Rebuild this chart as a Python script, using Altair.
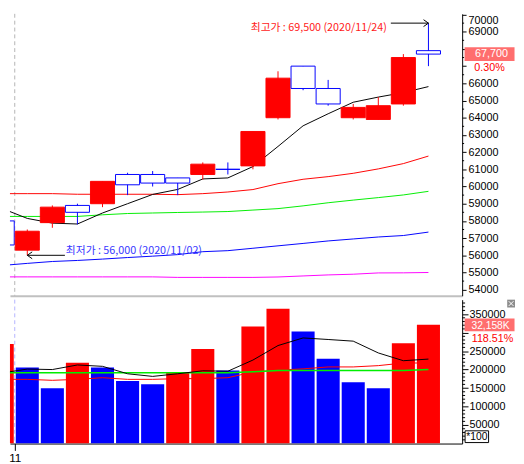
import altair as alt
import pandas as pd

# ---------------- data ----------------
dates = ["2020/10/30", "2020/11/02", "2020/11/03", "2020/11/04", "2020/11/05", "2020/11/06",
         "2020/11/09", "2020/11/10", "2020/11/11", "2020/11/12", "2020/11/13", "2020/11/16",
         "2020/11/17", "2020/11/18", "2020/11/19", "2020/11/20", "2020/11/23", "2020/11/24"]
opens = [58000, 56300, 57900, 58900, 59000, 60700, 60700, 60500, 60700, 61000, 61200, 64000,
         67000, 65700, 64000, 63900, 64800, 67900]
highs = [58300, 57500, 58900, 59000, 60300, 60800, 60900, 60500, 61400, 61400, 63200, 66700,
         67000, 66200, 64800, 65200, 67700, 69500]
lows = [56600, 56000, 57600, 57800, 58800, 59500, 60000, 59500, 60400, 60700, 61000, 63900,
        65600, 64700, 63900, 63900, 64700, 67000]
closes = [56600, 57400, 58800, 58500, 60300, 60100, 60200, 60200, 61300, 61000, 63200, 66300,
          65700, 64800, 64600, 64700, 67500, 67700]

ma5 = [58720, 58145, 57870, 57820, 58460, 59000, 59540, 59830, 60440, 60500, 61160, 62330,
       63530, 64230, 64900, 65200, 65460, 65810]
ma20 = [59585, 59585, 59585, 59550, 59550, 59550, 59550, 59528, 59585, 59681, 59823, 60165,
        60421, 60575, 60768, 61024, 61332, 61770]
ma60 = [58260, 58260, 58260, 58260, 58355, 58430, 58460, 58490, 58515, 58545, 58630, 58715,
        58875, 59055, 59210, 59355, 59510, 59720]
ma120 = [55410, 55530, 55640, 55700, 55780, 55870, 55950, 56040, 56210, 56270, 56410, 56550,
         56690, 56835, 56950, 57065, 57150, 57350]
ma240 = [54745, 54745, 54745, 54745, 54745, 54745, 54745, 54715, 54715, 54715, 54715, 54740,
         54800, 54860, 54900, 54975, 54980, 55000]

# volume (axis units are x100 shares)
vols = [269000, 205400, 149800, 218600, 205400, 169000, 160400, 191300, 255700, 197500, 316600,
        364200, 303300, 229200, 165700, 149800, 271350, 321580]
vol_dir = ["up", "down", "down", "up", "down", "down", "down", "up", "up", "down", "up", "up",
           "down", "down", "down", "down", "up", "up"]
vma5 = [191000, 201400, 200100, 212500, 208800, 188700, 181600, 188700, 196700, 195600, 225800,
        265000, 285600, 281400, 276900, 245000, 224000, 228400]
vma20 = [173600, 173600, 171000, 173600, 178100, 173600, 173600, 175500, 175500, 178100, 193500,
         198300, 202000, 207200, 207200, 210700, 217800, 217800]
vma60 = [191400, 191400, 191400, 191400, 191400, 191400, 191400, 191400, 191400, 191400, 194000,
         197500, 197500, 197500, 197500, 197500, 197500, 200100]

price_ticks = list(range(54000, 70001, 1000))
price_minor = list(range(54500, 70000, 1000))
vol_ticks = list(range(50000, 350001, 50000))
vol_minor = [v for v in range(10000, 390000, 10000) if v % 50000 != 0]

# ---------------- tables ----------------
n = len(dates)
df = pd.DataFrame({
    "i": list(range(n)), "date": dates, "open": opens, "high": highs, "low": lows,
    "close": closes, "ma5": ma5, "ma20": ma20, "ma60": ma60, "ma120": ma120, "ma240": ma240,
    "vol": vols, "vdir": vol_dir, "vma5": vma5, "vma20": vma20, "vma60": vma60,
})
df["dir"] = ["up" if c > o else "down" for o, c in zip(opens, closes)]

hi_i = max(range(n), key=lambda k: highs[k])
lo_i = min(range(1, n), key=lambda k: lows[k])
ann_hi = pd.DataFrame({"x0": [hi_i - 1.5], "x1": [hi_i], "y": [highs[hi_i]],
                       "label": [f"최고가 : {highs[hi_i]:,} ({dates[hi_i]})"]})
ann_lo = pd.DataFrame({"x0": [lo_i], "x1": [lo_i + 1.5], "y": [lows[lo_i]],
                       "label": [f"최저가 : {lows[lo_i]:,} ({dates[lo_i]})"]})

month_start = next(k for k in range(n) if dates[k][5:7] != dates[0][5:7])
bound_df = pd.DataFrame({"b": [month_start - 0.5]})
month_label = str(int(dates[month_start][5:7]))

pct = (closes[-1] - closes[-2]) / closes[-2] * 100
tag_p = pd.DataFrame({"y": [closes[-1]], "label": [f"{closes[-1]:,}"], "pct": [f"{pct:.2f}%"]})
vpct = vols[-1] / vols[-2] * 100
tag_v = pd.DataFrame({"y": [vols[-1]], "label": [f"{vols[-1] * 100 // 1000:,}K"],
                      "pct": [f"{vpct:.2f}%"]})
pm_df = pd.DataFrame({"t": price_minor})
vm_df = pd.DataFrame({"t": vol_minor})
one = pd.DataFrame({"t": ["*100"]})

# ---------------- scales / axes ----------------
W, H1, H2 = 462, 288, 147
FONT = "Liberation Sans"
RED, BLUE = "#ff0000", "#0000ff"
xs = alt.Scale(domain=[0.309, 18.345], nice=False, zero=False)
ys = alt.Scale(domain=[53648, 70040], nice=False, zero=False)
vs = alt.Scale(domain=[0, 389100], nice=False, zero=False)
col = alt.Scale(domain=["up", "down"], range=[RED, BLUE])

x_top_axis = alt.Axis(labels=False, ticks=False, title=None, grid=False,
                      domainColor="#c0c0c0", domainWidth=2)
x_bot_axis = alt.Axis(values=[month_start - 0.5], labelExpr=f"'{month_label}'", title=None,
                      grid=False, tickSize=7, tickColor="black", domainColor="black",
                      labelAlign="center", labelBaseline="top", labelPadding=2, labelOffset=0,
                      labelFont=FONT, labelFontSize=12, labelColor="black")
p_axis = alt.Axis(orient="right", values=price_ticks, format="d", title=None, grid=False,
                  tickSize=4, labelPadding=2, domainColor="black", tickColor="black",
                  labelFont=FONT, labelFontSize=11, labelColor="black", labelFlush=2,
                  labelExpr=f"abs(datum.value - {closes[-1]}) < 1000 ? '' : datum.label")
v_axis = alt.Axis(orient="right", values=vol_ticks, format="d", title=None, grid=False,
                  tickSize=6, labelPadding=1, domainColor="black", tickColor="black",
                  labelFont=FONT, labelFontSize=11, labelColor="black",
                  labelExpr=f"abs(datum.value - {vols[-1]}) < 25000 ? '' : datum.label")


def xt(field):
    return alt.X(field, scale=xs, axis=x_top_axis)


def xb(field):
    return alt.X(field, scale=xs, axis=x_bot_axis)


def yp(field):
    return alt.Y(field, scale=ys, axis=p_axis)


def yv(field):
    return alt.Y(field, scale=vs, axis=v_axis)


base = alt.Chart(df)

# ---------------- price panel ----------------
p_bound = alt.Chart(bound_df).mark_rule(color="#b4b4b4", strokeDash=[4, 3], strokeWidth=1).encode(
    x=xt("b:Q"))
p_minor = alt.Chart(pm_df).mark_rule(color="black", strokeWidth=1).encode(
    y=yp("t:Q"), x=alt.value(W), x2=alt.value(W + 2))

lines_p = [
    base.mark_line(color="#ff00ff", strokeWidth=1, clip=True).encode(x=xt("i:Q"), y=yp("ma240:Q")),
    base.mark_line(color="#0000ff", strokeWidth=1, clip=True).encode(x=xt("i:Q"), y=yp("ma120:Q")),
    base.mark_line(color="#00ee00", strokeWidth=1, clip=True).encode(x=xt("i:Q"), y=yp("ma60:Q")),
    base.mark_line(color="#ff0000", strokeWidth=1, clip=True).encode(x=xt("i:Q"), y=yp("ma20:Q")),
    base.mark_line(color="#000000", strokeWidth=1, clip=True).encode(x=xt("i:Q"), y=yp("ma5:Q")),
]

wicks = base.mark_rule(strokeWidth=1, clip=True).encode(
    x=xt("i:Q"), y=yp("low:Q"), y2="high:Q",
    color=alt.Color("dir:N", scale=col, legend=None))
bodies = base.transform_calculate(x0="datum.i - 0.48", x1="datum.i + 0.48").mark_bar(
    strokeWidth=1, clip=True, opacity=1).encode(
    x=xt("x0:Q"), x2="x1:Q", y=yp("open:Q"), y2="close:Q",
    fill=alt.Fill("dir:N", scale=alt.Scale(domain=["up", "down"], range=[RED, "#ffffff"]), legend=None),
    stroke=alt.Stroke("dir:N", scale=col, legend=None))

hi_rule = alt.Chart(ann_hi).mark_rule(color="black", strokeWidth=1).encode(
    x=xt("x0:Q"), x2="x1:Q", y=yp("y:Q"))
hi_head = alt.Chart(ann_hi).mark_point(shape="M -1 -0.7 L 0 0 L -1 0.7", size=100, filled=False,
                                       color="black", strokeWidth=1, opacity=1).encode(
    x=xt("x1:Q"), y=yp("y:Q"))
hi_text = alt.Chart(ann_hi).mark_text(align="right", baseline="middle", dx=-4, dy=5,
                                      font="Noto Sans CJK KR", fontSize=11, color="#ff1a1a").encode(
    x=xt("x0:Q"), y=yp("y:Q"), text="label:N")
lo_rule = alt.Chart(ann_lo).mark_rule(color="black", strokeWidth=1).encode(
    x=xt("x0:Q"), x2="x1:Q", y=yp("y:Q"))
lo_head = alt.Chart(ann_lo).mark_point(shape="M 1 -0.7 L 0 0 L 1 0.7", size=100, filled=False,
                                       color="black", strokeWidth=1, opacity=1).encode(
    x=xt("x0:Q"), y=yp("y:Q"))
lo_text = alt.Chart(ann_lo).mark_text(align="left", baseline="middle", dx=1, dy=-4,
                                      font="Noto Sans CJK KR", fontSize=11, color="#3838ff").encode(
    x=xt("x1:Q"), y=yp("y:Q"), text="label:N")

tp_box = alt.Chart(tag_p).mark_point(shape="M -1 -0.2745 L 1 -0.2745 L 1 0.2745 L -1 0.2745 Z",
                                     size=2601, filled=True, color="#ff6e6e", opacity=1).encode(
    x=alt.value(W + 28), y=yp("y:Q"))
tp_txt = alt.Chart(tag_p).mark_text(font=FONT, fontSize=11, color="white", baseline="middle").encode(
    x=alt.value(W + 30), y=yp("y:Q"), text="label:N")
tp_pct = alt.Chart(tag_p).mark_text(font=FONT, fontSize=11, color="#ff0000", baseline="middle",
                                    dy=14).encode(
    x=alt.value(W + 28), y=yp("y:Q"), text="pct:N")

price = alt.layer(p_bound, p_minor, *lines_p, wicks, bodies, hi_rule, hi_head, hi_text,
                  lo_rule, lo_head, lo_text, tp_box, tp_txt, tp_pct).properties(width=W, height=H1)

# ---------------- volume panel ----------------
v_bound = alt.Chart(bound_df).mark_rule(color="#b4b4ff", strokeDash=[4, 3], strokeWidth=1).encode(
    x=xb("b:Q"))
v_minor = alt.Chart(vm_df).mark_rule(color="black", strokeWidth=1).encode(
    y=yv("t:Q"), x=alt.value(W), x2=alt.value(W + 3))
vbars = base.transform_calculate(x0="datum.i - 0.46", x1="datum.i + 0.46").mark_bar(
    clip=True, opacity=1).encode(
    x=xb("x0:Q"), x2="x1:Q", y=yv("vol:Q"), y2=alt.datum(0),
    color=alt.Color("vdir:N", scale=col, legend=None))
lines_v = [
    base.mark_line(color="#ff0000", strokeWidth=1, clip=True).encode(x=xb("i:Q"), y=yv("vma20:Q")),
    base.mark_line(color="#00ee00", strokeWidth=1.5, clip=True).encode(x=xb("i:Q"), y=yv("vma60:Q")),
    base.mark_line(color="#000000", strokeWidth=1, clip=True).encode(x=xb("i:Q"), y=yv("vma5:Q")),
]
tv_box = alt.Chart(tag_v).mark_point(shape="M -1 -0.25 L 1 -0.25 L 1 0.27 L -1 0.27 Z",
                                     size=2601, filled=True, color="#ff6e6e", opacity=1).encode(
    x=alt.value(W + 28), y=yv("y:Q"))
tv_txt = alt.Chart(tag_v).mark_text(font=FONT, fontSize=10.5, color="white", baseline="middle",
                                    dy=1.5).encode(
    x=alt.value(W + 29), y=yv("y:Q"), text="label:N")
tv_pct = alt.Chart(tag_v).mark_text(font=FONT, fontSize=11, color="#ff0000", baseline="middle",
                                    dy=15).encode(
    x=alt.value(W + 31), y=yv("y:Q"), text="pct:N")
unit_box = alt.Chart(one).mark_point(shape="M -1 -0.5 L 1 -0.5 L 1 0.5 L -1 0.5 Z", size=576,
                                     filled=True, fill="white", stroke="black", strokeWidth=1,
                                     opacity=1).encode(x=alt.value(W + 15), y=alt.value(H2 - 7))
unit_txt = alt.Chart(one).mark_text(font=FONT, fontSize=10.5, color="black", baseline="middle",
                                    dy=0.5).encode(
    x=alt.value(W + 15), y=alt.value(H2 - 7), text="t:N")
x_btn = alt.Chart(one).mark_point(shape="square", size=64, filled=True, color="#8c8c8c",
                                  opacity=1).encode(x=alt.value(W + 50), y=alt.value(4))
x_cross = alt.Chart(one).mark_point(shape="M -0.6 -0.6 L 0.6 0.6 M -0.6 0.6 L 0.6 -0.6", size=64,
                                    filled=False, color="white", strokeWidth=1, opacity=1).encode(
    x=alt.value(W + 50), y=alt.value(4))

volume = alt.layer(vbars, v_bound, v_minor, *lines_v, tv_box, tv_txt, tv_pct, unit_box, unit_txt,
                   x_btn, x_cross).properties(width=W, height=H2)

chart = alt.vconcat(price, volume, spacing=2).resolve_scale(
    y="independent", x="shared", color="shared").configure_view(stroke=None).configure_axis(
    grid=False).properties(padding=0, background="white")

chart.save("out.html", embed_options={"renderer": "svg", "actions": False})
